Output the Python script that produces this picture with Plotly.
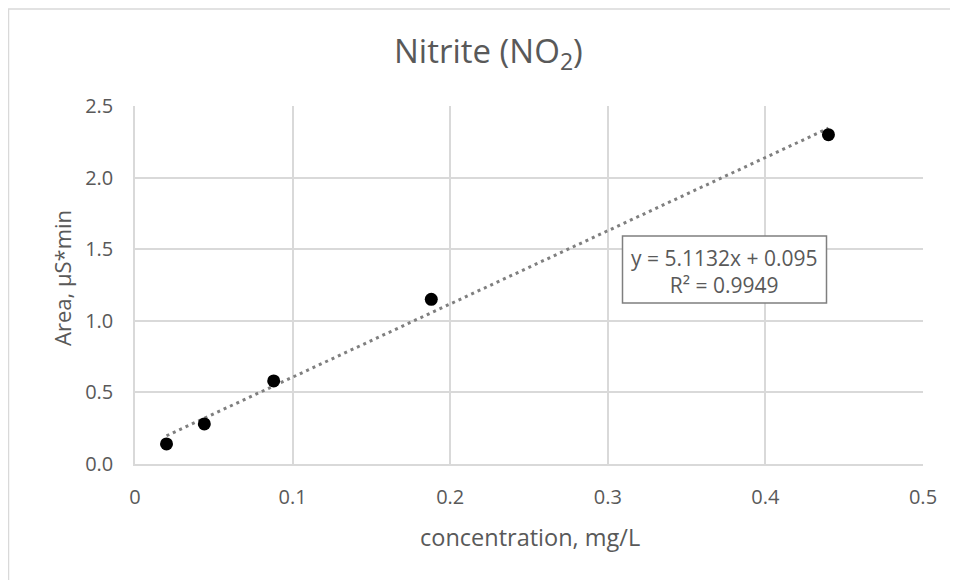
import plotly.graph_objects as go
import numpy as np

conc = [0.020, 0.044, 0.088, 0.188, 0.440]
area = [0.14, 0.28, 0.58, 1.15, 2.30]
slope = 5.1132
intercept = 0.095
r2 = 0.9949
x_ticks = [0, 0.1, 0.2, 0.3, 0.4, 0.5]
x_labels = ["0", "0.1", "0.2", "0.3", "0.4", "0.5"]
y_ticks = [0.0, 0.5, 1.0, 1.5, 2.0, 2.5]
y_labels = ["0.0", "0.5", "1.0", "1.5", "2.0", "2.5"]

FONT = "Open Sans"
TXT = "#595959"
GRID = "#d9d9d9"

# page px -> paper coords (plot area: x 135..923, y 106..464 in page px)
def px(p):
    return (p - 135) / 788

def py(p):
    return (464 - p) / 358

trend_x = np.linspace(min(conc), max(conc), 50)
trend_y = slope * trend_x + intercept

fig = go.Figure()
fig.add_trace(go.Scatter(x=trend_x, y=trend_y, mode="lines",
                         line=dict(color="#7f7f7f", width=3, dash="3px,4px"),
                         hoverinfo="skip", showlegend=False))
fig.add_trace(go.Scatter(x=conc, y=area, mode="markers",
                         marker=dict(color="black", size=13),
                         showlegend=False))

fig.update_layout(
    width=950, height=572,
    margin=dict(l=127, r=35, t=98, b=116),
    paper_bgcolor="white", plot_bgcolor="white",
    font=dict(family=FONT, color=TXT, size=16),
    showlegend=False,
    shapes=[
        dict(type="rect", xref="paper", yref="paper",
             x0=px(8.5), x1=px(965), y0=py(600), y1=py(9),
             line=dict(color="#d9d9d9", width=1.5), fillcolor="rgba(0,0,0,0)",
             layer="below"),
        dict(type="rect", xref="paper", yref="paper",
             x0=px(622.5), x1=px(826.5), y0=py(303), y1=py(236),
             line=dict(color="#7f7f7f", width=1.5), fillcolor="white",
             layer="above"),
    ],
    annotations=[
        dict(text="Nitrite (NO<sub>2</sub>)", xref="paper", yref="paper",
             x=px(488), y=py(52), showarrow=False,
             font=dict(size=33, color=TXT, family=FONT), xanchor="center", yanchor="middle"),
        dict(text=f"y = {slope}x + {intercept}<br>R² = {r2}", xref="paper", yref="paper",
             x=px(724), y=py(271), showarrow=False,
             font=dict(size=21, color=TXT, family=FONT), align="center",
             xanchor="center", yanchor="middle"),
        dict(text="Area, µS*min", xref="paper", yref="paper",
             x=px(62), y=py(278), showarrow=False, textangle=-90,
             font=dict(size=22, color=TXT, family=FONT),
             xanchor="center", yanchor="middle"),
        dict(text="concentration, mg/L", xref="paper", yref="paper",
             x=px(530), y=py(537), showarrow=False,
             font=dict(size=23.5, color=TXT, family=FONT),
             xanchor="center", yanchor="middle"),
    ],
)
fig.update_xaxes(range=[0, 0.5], tickvals=x_ticks, ticktext=x_labels,
                 showgrid=True, gridcolor=GRID, gridwidth=1.5,
                 showline=True, linecolor=GRID, linewidth=1.5,
                 zeroline=False, ticks="", tickfont=dict(size=20, color=TXT),
                 ticklabelstandoff=14)
fig.update_yaxes(range=[0, 2.5], tickvals=y_ticks, ticktext=y_labels,
                 showgrid=True, gridcolor=GRID, gridwidth=1.5,
                 showline=True, linecolor=GRID, linewidth=1.5,
                 zeroline=False, ticks="", tickfont=dict(size=20, color=TXT),
                 ticklabelstandoff=16)

fig.write_html("out.html")
